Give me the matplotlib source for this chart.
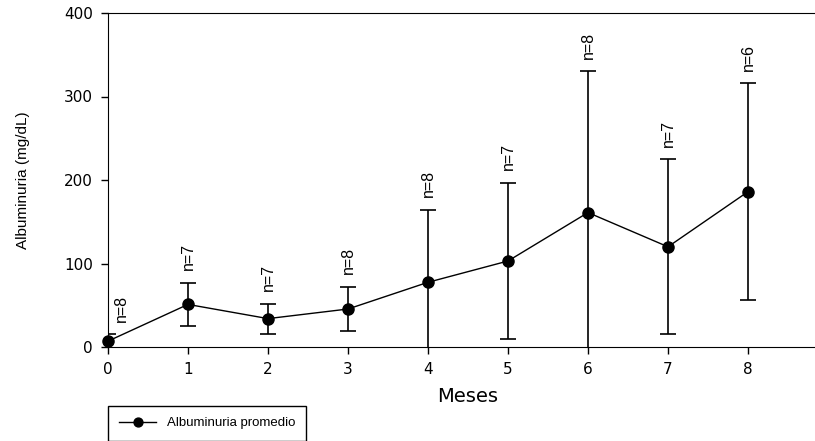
import numpy as np
import matplotlib
matplotlib.use("Agg")
import matplotlib.pyplot as plt

plt.rcParams['font.family'] = ['Liberation Sans', 'DejaVu Sans']

# datos
meses = [0, 1, 2, 3, 4, 5, 6, 7, 8]
albuminuria = [7, 51, 34, 45.5, 77.5, 103, 161, 120, 186]
desv = [8, 26, 18, 26.5, 87, 94, 169, 105, 130]
n_pacientes = [8, 7, 7, 8, 8, 7, 8, 7, 6]

fig = plt.figure(figsize=(8.15, 4.41), dpi=100)
# el eje llega hasta x=9, recortado por el borde derecho
ax = fig.add_axes([108/815, 94/441, 720/815, 334/441])

ax.errorbar(meses, albuminuria, yerr=desv, fmt='none', ecolor='black',
            elinewidth=1.2, capsize=6, capthick=1.2)
linea, = ax.plot(meses, albuminuria, color='black', lw=1, marker='o',
                 markersize=8, clip_on=False, zorder=5,
                 label='Albuminuria promedio')

# etiquetas n= sobre cada barra
for i in range(len(meses)):
    dx = 10 if i == 0 else 0
    ax.annotate("n=" + str(n_pacientes[i]),
                xy=(meses[i], albuminuria[i] + desv[i]),
                xytext=(dx, 9), textcoords='offset points',
                rotation=90, ha='center', va='bottom', fontsize=11.5)

ax.set_xlim(0, 9)
ax.set_ylim(0, 400)
ax.set_xticks(meses)
ax.set_yticks([0, 100, 200, 300, 400])
ax.tick_params(direction='out', length=5, width=1, pad=6)
for lab in ax.get_xticklabels() + ax.get_yticklabels():
    lab.set_fontfamily('DejaVu Sans')
    lab.set_fontsize(11)
ax.set_xlabel("Meses", fontsize=14, labelpad=7, family='DejaVu Sans')
ax.set_ylabel("Albuminuria (mg/dL)", fontsize=11, labelpad=24)

fig.legend(handles=[linea], loc='upper left',
           bbox_to_anchor=(108/815, 1 - 406/441), borderaxespad=0,
           fancybox=False, edgecolor='black', framealpha=1, fontsize=9.5,
           handlelength=2.8, handletextpad=0.8, borderpad=0.85,
           markerscale=0.8)

fig.savefig("out.png", dpi=100)
